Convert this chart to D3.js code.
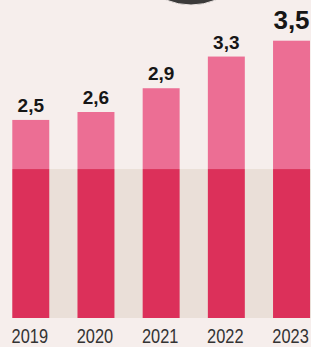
<!DOCTYPE html>
<html>
<head>
<meta charset="utf-8">
<script src="https://cdn.jsdelivr.net/npm/d3@7/dist/d3.min.js"></script>
<style>
  html, body { margin: 0; padding: 0; background: #f6eeec; }
  svg { display: block; }
</style>
</head>
<body>
<div id="chart-area"></div>
<script>
// values
var years = ["2019", "2020", "2021", "2022", "2023"]
var values = [2.5, 2.6, 2.9, 3.3, 3.5]
var labels = ["2,5", "2,6", "2,9", "3,3", "3,5"]
var lower = [1.88, 1.88, 1.88, 1.88, 1.88]

var width = 311, height = 347

var svg = d3.select("#chart-area")
    .append("svg")
    .attr("width", width)
    .attr("height", height)

svg.append("rect")
    .attr("width", width)
    .attr("height", height)
    .attr("fill", "#f6eeec")

// dark knob cut off at the top
svg.append("circle")
    .attr("cx", 191)
    .attr("cy", -60)
    .attr("r", 65)
    .attr("fill", "#3b3a3a")
    .attr("stroke", "#ece5e3")
    .attr("stroke-width", 1)

var x = d3.scaleBand()
    .domain(years)
    .range([12.3, 310])
    .paddingInner(0.433)
    .paddingOuter(0)

var y = d3.scaleLinear()
    .domain([0, 3.5])
    .range([318, 40.7])

// beige band behind the lower part
svg.append("rect")
    .attr("x", x(years[0]))
    .attr("y", y(lower[0]))
    .attr("width", width - x(years[0]))
    .attr("height", y(0) - y(lower[0]))
    .attr("fill", "#eadfd8")

var data = years.map((d, i) => ({ year: d, value: values[i], label: labels[i], low: lower[i] }))

svg.selectAll(".bar-top")
    .data(data)
    .enter()
    .append("rect")
    .attr("class", "bar-top")
    .attr("x", d => x(d.year))
    .attr("y", d => y(d.value))
    .attr("width", x.bandwidth())
    .attr("height", d => y(d.low) - y(d.value))
    .attr("fill", "#ec6e94")

svg.selectAll(".bar-low")
    .data(data)
    .enter()
    .append("rect")
    .attr("class", "bar-low")
    .attr("x", d => x(d.year))
    .attr("y", d => y(d.low))
    .attr("width", x.bandwidth())
    .attr("height", d => y(0) - y(d.low))
    .attr("fill", "#dc305a")

var last = data.length - 1

svg.selectAll(".val")
    .data(data)
    .enter()
    .append("text")
    .attr("class", "val")
    .attr("x", d => x(d.year) + x.bandwidth() / 2)
    .attr("y", (d, i) => y(d.value) - (i == last ? 11.5 : 8))
    .attr("text-anchor", "middle")
    .attr("font-family", "'Liberation Sans', Arial, sans-serif")
    .attr("font-weight", "bold")
    .attr("font-size", (d, i) => i == last ? "26px" : "19px")
    .attr("fill", "#161616")
    .text(d => d.label)

// condensed year labels (squeezed horizontally)
svg.selectAll(".year")
    .data(data)
    .enter()
    .append("text")
    .attr("class", "year")
    .attr("transform", d => "translate(" + (x(d.year) + x.bandwidth() / 2 - 1) + ",343) scale(0.78,1)")
    .attr("text-anchor", "middle")
    .attr("font-family", "'Liberation Sans', Arial, sans-serif")
    .attr("font-size", "21px")
    .attr("fill", "#333")
    .text(d => d.year)
</script>
</body>
</html>
